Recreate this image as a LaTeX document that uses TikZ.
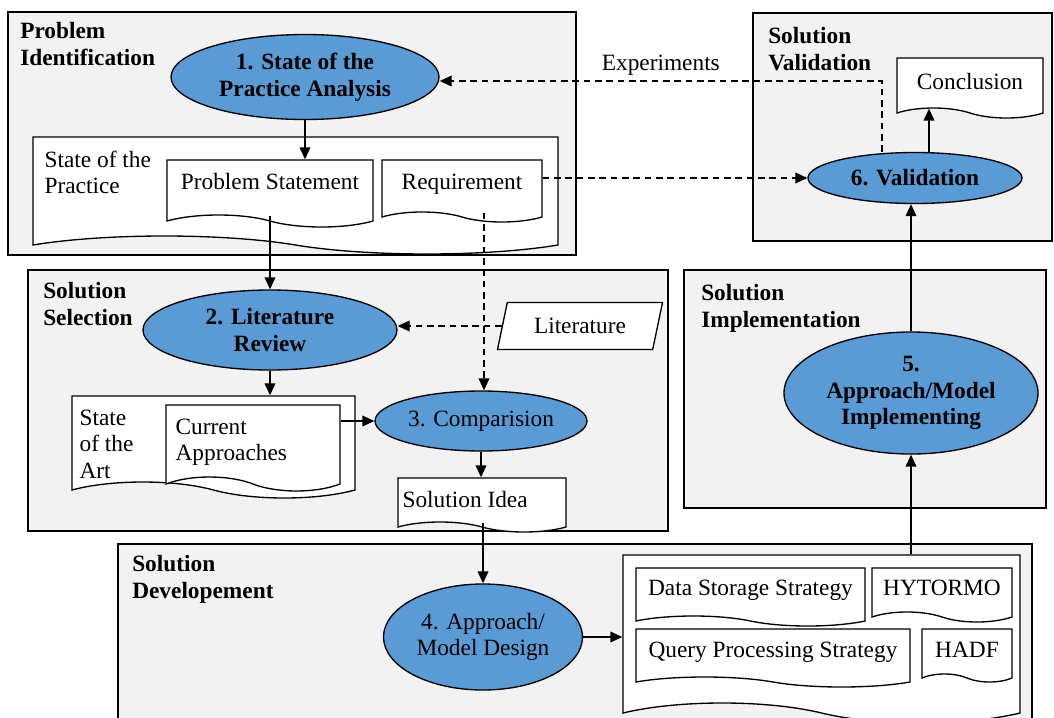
\documentclass[tikz,border=0pt]{standalone}
\usepackage{fontspec}
\setmainfont{Liberation Serif}
\usetikzlibrary{shapes.geometric,shapes.symbols,arrows.meta}

\definecolor{boxgray}{RGB}{242,242,242}
\definecolor{stepblue}{RGB}{91,155,213}
\newlength{\unitpx}
\setlength{\unitpx}{0.75pt}
\newcommand{\figfont}{\fontsize{17.5}{20}\selectfont}

\tikzset{
  phase/.style={draw, line width=1.5pt, fill=boxgray},
  phasetitle/.style={anchor=north west, inner sep=0pt, align=left, font=\figfont\bfseries},
  activity/.style={ellipse, draw, line width=1pt, fill=stepblue, inner sep=0pt, align=center},
  doc/.style={tape, draw, fill=white, line width=1pt, tape bend top=none,
    tape bend bottom=out and in, tape bend height=10\unitpx, inner sep=0pt},
  doctext/.style={anchor=north, inner sep=0pt, align=center, yshift=-14\unitpx},
  doctextl/.style={anchor=north west, inner sep=0pt, align=left, xshift=8\unitpx, yshift=-14\unitpx},
  link/.style={line width=1.1pt},
  dashlink/.style={line width=1.1pt, dash pattern=on 5pt off 3.5pt}
}

\begin{document}
\begin{tikzpicture}[x=0.75pt, y=-0.75pt, font=\figfont, >={Triangle[length=9pt,width=8pt]}]
  \useasboundingbox (0,0) rectangle (1054,718);

  \draw[phase] (8,12) rectangle (576,255);
  \draw[phase] (753,13) rectangle (1052,241);
  \draw[phase] (28,270) rectangle (668,531);
  \draw[phase] (684,270) rectangle (1046,508);
  \draw[phase] (118,544) rectangle (1032,730);
  \node[phasetitle] (tident) at (20,22) {Problem\\Identification};
  \node[phasetitle] (tvalid) at (768,27) {Solution\\Validation};
  \node[phasetitle] (tselect) at (43,282) {Solution\\Selection};
  \node[phasetitle] (timpl) at (701,284) {Solution\\Implementation};
  \node[phasetitle] (tdevel) at (132,555) {Solution\\Developement};

  \node[activity, font=\figfont\bfseries, minimum width=268\unitpx, minimum height=85\unitpx] (e1) at (305,77) {1. State of the\\Practice Analysis};
  \node[activity, font=\figfont\bfseries, minimum width=254\unitpx, minimum height=80\unitpx] (e2) at (270,330) {2. Literature\\Review};
  \node[activity, minimum width=212\unitpx, minimum height=60\unitpx] (e3) at (481,421) {3. Comparision};
  \node[activity, minimum width=199\unitpx, minimum height=106\unitpx] (e4) at (483,637) {4. Approach/\\Model Design};
  \node[activity, font=\figfont\bfseries, minimum width=254\unitpx, minimum height=122\unitpx] (e5) at (911,393) {5.\\Approach/Model\\Implementing};
  \node[activity, font=\figfont\bfseries, minimum width=214\unitpx, minimum height=51\unitpx] (e6) at (915,178) {6. Validation};

  \node[doc, tape bend height=18\unitpx, minimum width=525\unitpx, minimum height=117\unitpx,
    label={[doctextl, xshift=4\unitpx, name=sopl]north west:State of the\\Practice}] (sop) at (295.5,186.5) {};
  \node[doc, tape bend height=12\unitpx, minimum width=206\unitpx, minimum height=67\unitpx,
    label={[doctext, name=psl]north:Problem Statement}] (ps) at (270,187.5) {};
  \node[doc, minimum width=160\unitpx, minimum height=62\unitpx,
    label={[doctext, name=reql]north:Requirement}] (req) at (462,186) {};

  \node[doc, tape bend height=16\unitpx, minimum width=283\unitpx, minimum height=102\unitpx,
    label={[doctextl, name=soal]north west:State\\of the\\Art}] (soa) at (213.5,439) {};
  \node[doc, tape bend height=14\unitpx, minimum width=174\unitpx, minimum height=86\unitpx,
    label={[doctextl, xshift=2\unitpx, name=cal]north west:Current\\Approaches}] (ca) at (253,441) {};
  \node[doc, minimum width=168\unitpx, minimum height=54\unitpx,
    label={[doctextl, xshift=-3\unitpx, name=ideal]north west:Solution Idea}] (idea) at (482,500) {};
  \node[trapezium, trapezium left angle=58, trapezium right angle=122, trapezium stretches body,
    draw, fill=white, line width=1pt, inner sep=0pt, minimum width=165\unitpx, minimum height=47\unitpx] (lit) at (580,326) {Literature\hspace{6\unitpx}};

  \node[doc, minimum width=146\unitpx, minimum height=60\unitpx,
    label={[doctext, yshift=-2\unitpx, name=concll]north:Conclusion}] (concl) at (970,83) {};

  \node[doc, tape bend height=20\unitpx, minimum width=397\unitpx, minimum height=168\unitpx] (dev) at (821.5,629) {};
  \node[doc, minimum width=229\unitpx, minimum height=58\unitpx,
    label={[doctext, yshift=2\unitpx, name=dssl]north:Data Storage Strategy}] (dss) at (750.5,592) {};
  \node[doc, minimum width=140\unitpx, minimum height=54\unitpx,
    label={[doctext, yshift=2\unitpx, name=hytl]north:HYTORMO}] (hyt) at (942,590) {};
  \node[doc, minimum width=274\unitpx, minimum height=58\unitpx,
    label={[doctext, yshift=1\unitpx, name=qpsl]north:Query Processing Strategy}] (qps) at (773,653) {};
  \node[doc, tape bend height=8\unitpx, minimum width=90\unitpx, minimum height=53\unitpx,
    label={[doctext, yshift=1\unitpx, name=hadfl]north:HADF}] (hadf) at (967,651.5) {};

  \path[->, link]
  (e1.south) edge (e1.south |- ps.north)
  (ps.south) edge (e2.north)
  (e2.south) edge (e2.south |- soa.north)
  (ca.east |- e3.west) edge (e3.west)
  (e3.south) edge (e3.south |- idea.north)
  (idea.south -| e4.north) edge (e4.north)
  (e4.east) edge (e4.east -| dev.west)
  (dev.north -| e5.south) edge (e5.south)
  (e5.north) edge (e5.north |- e6.south)
  ([xshift=14\unitpx]e6.north) edge ([xshift=14\unitpx]e6.north |- concl.south);

  \path[->, dashlink]
  (lit.west) edge (lit.west -| e2.east)
  ([xshift=3\unitpx]req.south -| e3.north) edge ([xshift=3\unitpx]e3.north)
  (req.east |- e6.west) edge (e6.west);

  \coordinate (expturn) at (882,81);
  \draw[->, dashlink] (expturn |- e6.north) -- (expturn)
    -- node[midway, above] (explbl) {Experiments} (expturn -| e1.east);
\end{tikzpicture}
\end{document}
